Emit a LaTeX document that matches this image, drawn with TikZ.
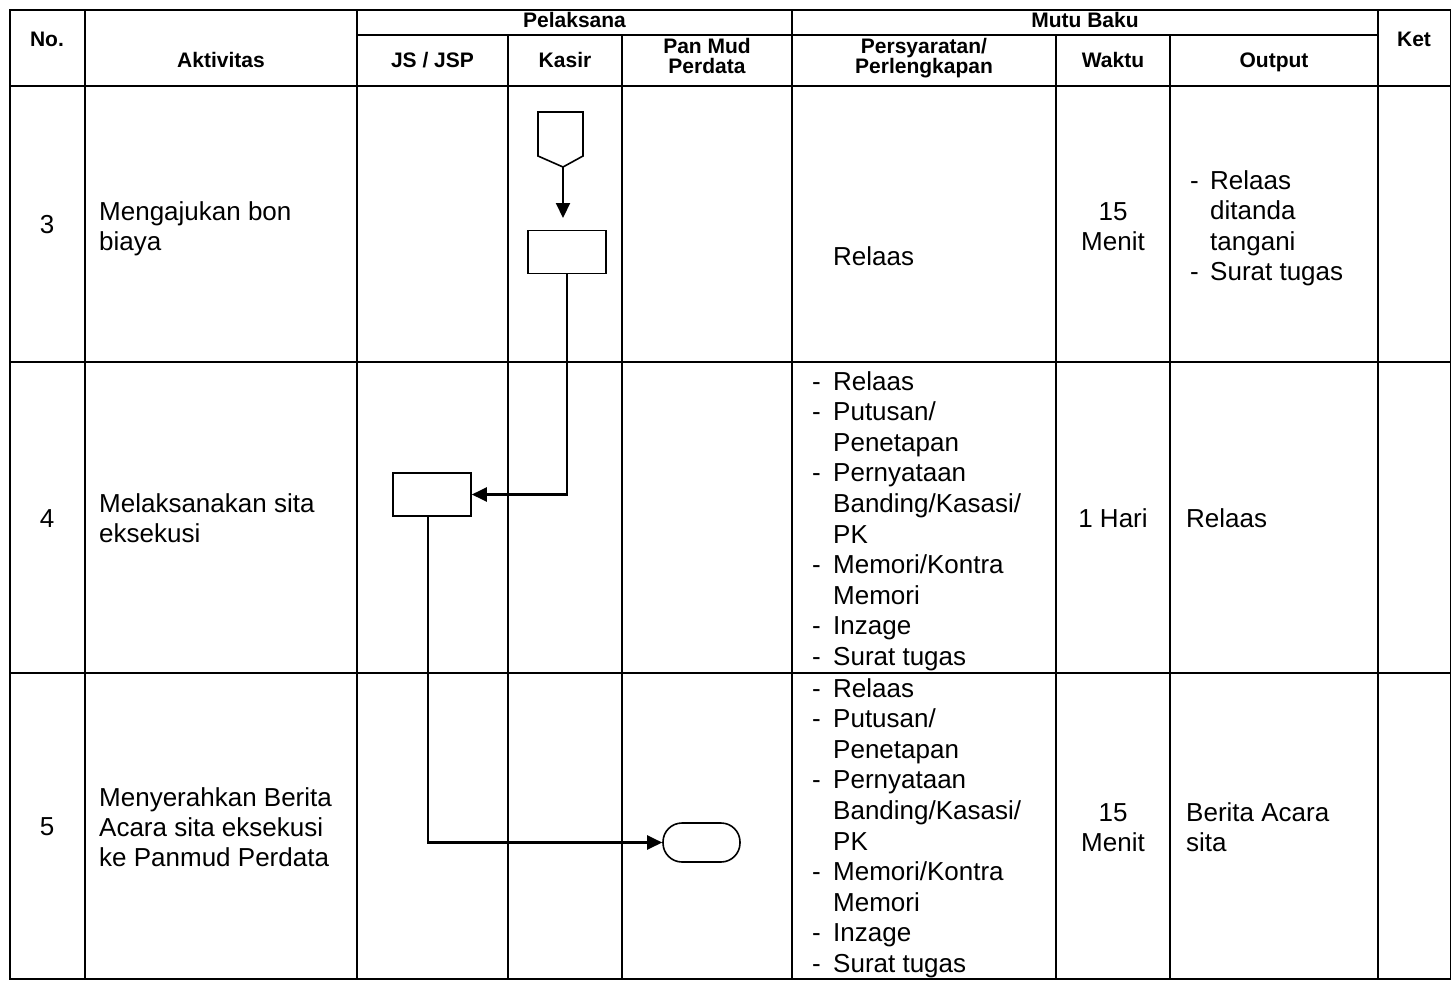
\documentclass[tikz,border=0pt]{standalone}
\usepackage{fontspec}
\setmainfont{Liberation Sans}
\usetikzlibrary{arrows.meta}
\newcommand\reqlist[2]{%
  \foreach \k in {0,1,3,6,8,9} \node[bd,anchor=base west] (#1d\k) at (812,{#2+30.6*\k}) {-};
  \foreach \t [count=\k from 0] in {Relaas,Putusan/,Penetapan,Pernyataan,Banding/Kasasi/,PK,Memori/Kontra,Memori,Inzage,Surat tugas}
    \node[bd,anchor=base west] (#1t\k) at (833,{#2+30.6*\k}) {\t};
}
\begin{document}
\begin{tikzpicture}[x=1pt,y=-1pt,
  grid/.style={line width=2.5pt},
  hd/.style={font=\bfseries\fontsize{21}{18.5}\selectfont, inner sep=0pt, anchor=base},
  bd/.style={font=\fontsize{26}{30.6}\selectfont, inner sep=0pt},
  box/.style={draw, line width=1.6pt, minimum width=78pt, minimum height=43pt, inner sep=0pt},
  term/.style={draw, line width=1.6pt, rounded corners=19pt, minimum width=77pt, minimum height=39pt, inner sep=0pt},
  conn/.style={line width=2.2pt, -{Triangle[length=15pt,width=14pt]}},
  shp/.style={line width=1.6pt, line join=miter}
]
\useasboundingbox (0,0) rectangle (1451,982);

% table grid
\draw[grid] (10,10) rectangle (1451,979);
\foreach \x in {85,357,792,1378} \draw[grid] (\x,10) -- (\x,979);
\foreach \x in {508,622,1056,1170} \draw[grid] (\x,35) -- (\x,979);
\draw[grid] (357,35) -- (1378,35);
\foreach \y in {86,362,673} \draw[grid] (10,\y) -- (1451,\y);

% header
\node[hd] (hno) at (47,47) {No.};
\node[hd] (hakt) at (221,67) {Aktivitas};
\node[hd] (hpel) at (574.5,28) {Pelaksana};
\node[hd] (hmutu) at (1085,28) {Mutu Baku};
\node[hd] (hjs) at (432.5,67) {JS / JSP};
\node[hd] (hkas) at (565,67) {Kasir};
\node[hd] (hpm1) at (707,53.5) {Pan Mud};
\node[hd] (hpm2) at (707,74) {Perdata};
\node[hd] (hps1) at (924,53.5) {Persyaratan/};
\node[hd] (hps2) at (924,74) {Perlengkapan};
\node[hd] (hwak) at (1113,67) {Waktu};
\node[hd] (hout) at (1274,67) {Output};
\node[hd] (hket) at (1414,47) {Ket};

% row 3
\node[bd,anchor=base] (n3) at (47,233) {3};
\node[bd,anchor=base west] (a3a) at (99,220) {Mengajukan bon};
\node[bd,anchor=base west] (a3b) at (99,250) {biaya};
\node[bd,anchor=base west] (p3) at (833,265) {Relaas};
\node[bd,anchor=base] (w3a) at (1113,220) {15};
\node[bd,anchor=base] (w3b) at (1113,250) {Menit};
\node[bd,anchor=base west] (o3d1) at (1190,189) {-};
\node[bd,anchor=base west] (o3a) at (1210,189) {Relaas};
\node[bd,anchor=base west] (o3b) at (1210,219.6) {ditanda};
\node[bd,anchor=base west] (o3c) at (1210,250.2) {tangani};
\node[bd,anchor=base west] (o3d2) at (1190,280.8) {-};
\node[bd,anchor=base west] (o3e) at (1210,280.8) {Surat tugas};

% row 4
\node[bd,anchor=base] (n4) at (47,527) {4};
\node[bd,anchor=base west] (a4a) at (99,512) {Melaksanakan sita};
\node[bd,anchor=base west] (a4b) at (99,542) {eksekusi};
\reqlist{r4}{390}
\node[bd,anchor=base] (w4) at (1113,527) {1 Hari};
\node[bd,anchor=base west] (o4) at (1186,527) {Relaas};

% row 5
\node[bd,anchor=base] (n5) at (47,835) {5};
\node[bd,anchor=base west] (a5a) at (99,806) {Menyerahkan Berita};
\node[bd,anchor=base west] (a5b) at (99,836) {Acara sita eksekusi};
\node[bd,anchor=base west] (a5c) at (99,866) {ke Panmud Perdata};
\reqlist{r5}{697}
\node[bd,anchor=base] (w5a) at (1113,821) {15};
\node[bd,anchor=base] (w5b) at (1113,851) {Menit};
\node[bd,anchor=base west] (o5a) at (1186,821) {Berita Acara};
\node[bd,anchor=base west] (o5b) at (1186,851) {sita};

% flow shapes
\draw[shp] (538,112) -- (583,112) -- (583,156) -- (563,167) -- (538,156) -- cycle;
\coordinate (pent) at (563,167);
\coordinate (pentend) at (563,218);
\node[box] (kasirbox) at (567,252) {};
\node[box] (jsbox) at (432,494.5) {};
\node[term] (pmbox) at (701.5,842.5) {};

% connectors
\draw[conn] (pent) -- (pentend);
\draw[conn] (kasirbox.south) |- (jsbox.east);
\draw[conn] ([xshift=-4pt]jsbox.south) |- (pmbox.west);
\end{tikzpicture}
\end{document}
